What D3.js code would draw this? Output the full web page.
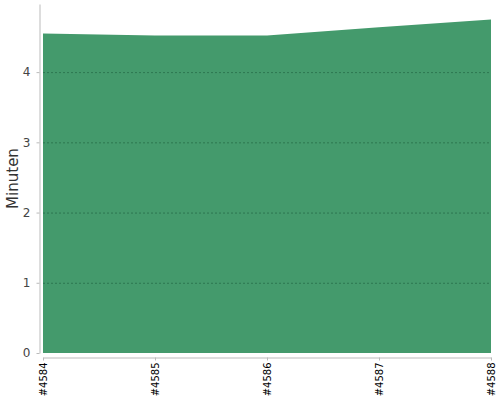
<!DOCTYPE html>
<html>
<head>
<meta charset="utf-8">
<script src="https://cdn.jsdelivr.net/npm/d3@7"></script>
<style>
body { margin: 0; background: #fff; }
</style>
</head>
<body>
<div id="chart"></div>
<script>
// data
var builds = ["#4584", "#4585", "#4586", "#4587", "#4588"];
var minutes = [4.55, 4.52, 4.52, 4.64, 4.75];
var yTicks = [0, 1, 2, 3, 4];

var margin = {top: 4, right: 9, bottom: 47, left: 43},
    width = 500 - margin.left - margin.right,
    height = 400 - margin.top - margin.bottom;

var svg = d3.select("#chart")
  .append("svg")
    .attr("width", 500)
    .attr("height", 400)
  .append("g")
    .attr("transform", "translate(" + margin.left + "," + margin.top + ")");

var x = d3.scalePoint()
    .domain(builds)
    .range([0, width]);

var y = d3.scaleLinear()
    .domain([0, 4.97])
    .range([height, 0]);

// area
var area = d3.area()
    .x(function(d, i) { return x(builds[i]); })
    .y0(y(0))
    .y1(function(d) { return y(d); });

svg.append("path")
    .datum(minutes)
    .attr("fill", "#449a6c")
    .attr("d", area);

// grid lines
svg.selectAll(".grid")
  .data(yTicks.filter(function(d) { return d > 0; }))
  .enter()
  .append("line")
    .attr("x1", 0)
    .attr("x2", width)
    .attr("y1", function(d) { return y(d) + 0.5; })
    .attr("y2", function(d) { return y(d) + 0.5; })
    .style("stroke", "#2d7650")
    .style("stroke-width", 1)
    .style("stroke-dasharray", "2,2");

// Y axis
var yAxis = svg.append("g")
    .attr("transform", "translate(-3.5,0)")
    .call(d3.axisLeft(y).tickValues(yTicks).tickFormat(d3.format("d")).tickSize(3).tickPadding(6).tickSizeOuter(0));
yAxis.select(".domain").style("stroke", "#bbb");
yAxis.selectAll(".tick line").style("stroke", "#bbb");
yAxis.selectAll(".tick text")
    .style("font-family", "DejaVu Sans")
    .style("fill", "#444")
    .style("font-size", "12px");

// X axis
var xAxis = svg.append("g")
    .attr("transform", "translate(0," + (height + 4.5) + ")")
    .call(d3.axisBottom(x).tickSize(3).tickSizeOuter(0));
xAxis.select(".domain").style("stroke", "#bbb");
xAxis.selectAll(".tick line").style("stroke", "#bbb");
xAxis.selectAll(".tick text")
    .style("font-family", "DejaVu Sans")
    .style("fill", "#000")
    .style("font-size", "10px")
    .attr("text-anchor", "end")
    .attr("dy", "0.35em")
    .attr("transform", "translate(0,5) rotate(-90)")
    .attr("x", 0)
    .attr("y", 0);

// Y label
svg.append("text")
    .attr("transform", "rotate(-90)")
    .attr("x", -height / 2)
    .attr("y", -margin.left + 18)
    .attr("text-anchor", "middle")
    .style("font-family", "DejaVu Sans")
    .style("font-size", "15px")
    .style("fill", "#333")
    .text("Minuten");
</script>
</body>
</html>
